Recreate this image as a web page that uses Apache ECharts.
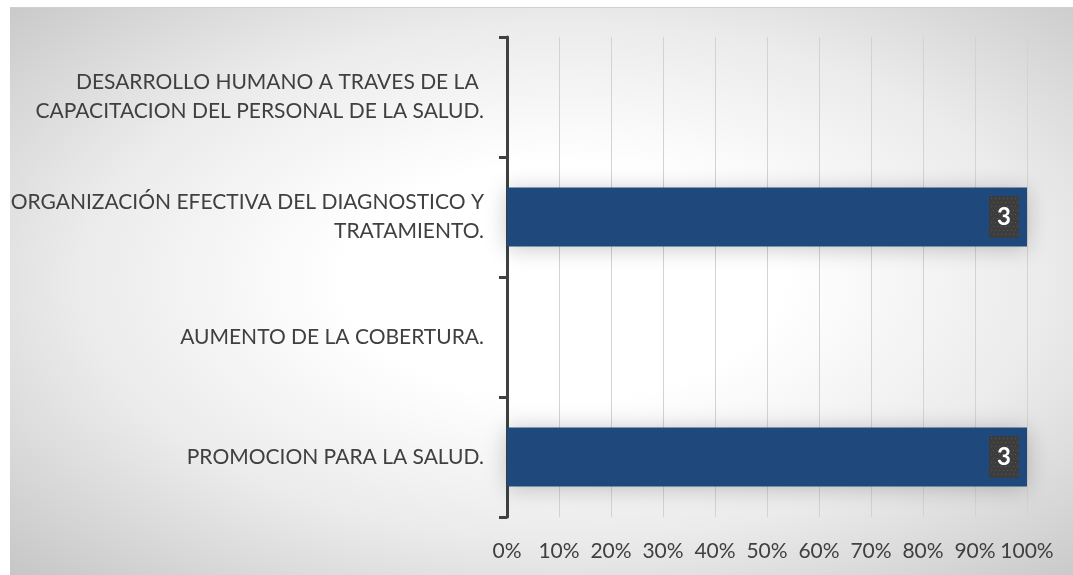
<!DOCTYPE html>
<html>
<head>
<meta charset="utf-8">
<script src="https://cdn.jsdelivr.net/npm/echarts@6/dist/echarts.min.js"></script>
<style>
  html, body { margin: 0; padding: 0; background: #ffffff; }
  #wrap { position: relative; width: 1073px; height: 575px; overflow: hidden; }
  #bg {
    position: absolute; left: 10px; top: 7px; width: 1063px; height: 568px;
    border-top: 1px solid #cfcfcf;
    background: radial-gradient(ellipse at 52% 48%, #ffffff 0%, #ffffff 28%, #ebebeb 62%, #c6c6c6 100%);
  }
  #chart { position: absolute; left: 0; top: 0; width: 1073px; height: 575px; }
</style>
</head>
<body>
<div id="wrap">
  <div id="bg"></div>
  <div id="chart"></div>
</div>
<script>
// Strategies (bottom to top) and number of answers for each
const categories = [
  'PROMOCION PARA LA SALUD.',
  'AUMENTO DE LA COBERTURA.',
  'ORGANIZACIÓN EFECTIVA DEL DIAGNOSTICO Y\nTRATAMIENTO.',
  'DESARROLLO HUMANO A TRAVES DE LA \nCAPACITACION DEL PERSONAL DE LA SALUD.'
];
const counts = [3, 0, 3, 0];
const xTicks = [0, 10, 20, 30, 40, 50, 60, 70, 80, 90, 100];

// Dotted dark tile used behind the value labels
function dottedTile(w, h) {
  const cv = document.createElement('canvas');
  cv.width = w; cv.height = h;
  const g = cv.getContext('2d');
  g.fillStyle = '#3d3d3d';
  g.fillRect(0, 0, w, h);
  g.fillStyle = '#5a5a5a';
  for (let y = 2; y < h; y += 4) {
    for (let x = (y % 8 === 2 ? 2 : 4); x < w; x += 4) {
      g.fillRect(x, y, 1, 1);
    }
  }
  return cv;
}
const tile = dottedTile(30, 42);

// 100% stacked: each count as a share of its own category total
const barData = counts.map(c => ({
  value: c > 0 ? (c / c) * 100 : 0,
  label: { show: c > 0 }
}));

const chart = echarts.init(document.getElementById('chart'), null, { renderer: 'canvas' });
const textColor = '#404040';
const font = 'Lato, "Open Sans", sans-serif';

chart.setOption({
  backgroundColor: 'transparent',
  animation: false,
  grid: { left: 507, right: 46, top: 37, bottom: 58, containLabel: false },
  xAxis: {
    type: 'value',
    min: xTicks[0],
    max: xTicks[xTicks.length - 1],
    interval: 10,
    axisLine: { show: false },
    axisTick: { show: false },
    axisLabel: {
      margin: 24,
      color: textColor,
      fontFamily: font,
      fontSize: 21,
      formatter: v => v + '%'
    },
    splitLine: { lineStyle: { color: '#d3d3d3', width: 1 } }
  },
  yAxis: {
    type: 'category',
    data: categories,
    boundaryGap: true,
    axisLine: { show: true, lineStyle: { color: '#404040', width: 3 } },
    axisTick: {
      show: true,
      inside: false,
      alignWithLabel: false,
      interval: 0,
      length: 8,
      lineStyle: { color: '#404040', width: 3 }
    },
    axisLabel: {
      margin: 23,
      color: textColor,
      fontFamily: font,
      fontSize: 21,
      lineHeight: 29,
      align: 'right'
    },
    splitLine: { show: false }
  },
  series: [{
    type: 'bar',
    stack: 'total',
    data: barData,
    barWidth: '49%',
    itemStyle: {
      color: '#1f497d',
      shadowColor: 'rgba(0,0,0,0.22)',
      shadowBlur: 22,
      shadowOffsetY: 2
    },
    label: {
      position: 'insideRight',
      distance: 8,
      formatter: p => String(counts[p.dataIndex]),
      color: '#ffffff',
      fontFamily: font,
      fontWeight: 'bold',
      fontSize: 24,
      lineHeight: 42,
      padding: [0, 8],
      backgroundColor: { image: tile },
      shadowColor: 'rgba(0,0,0,0.45)',
      shadowBlur: 6,
      shadowOffsetX: 2,
      shadowOffsetY: 2
    }
  }]
});
</script>
</body>
</html>
